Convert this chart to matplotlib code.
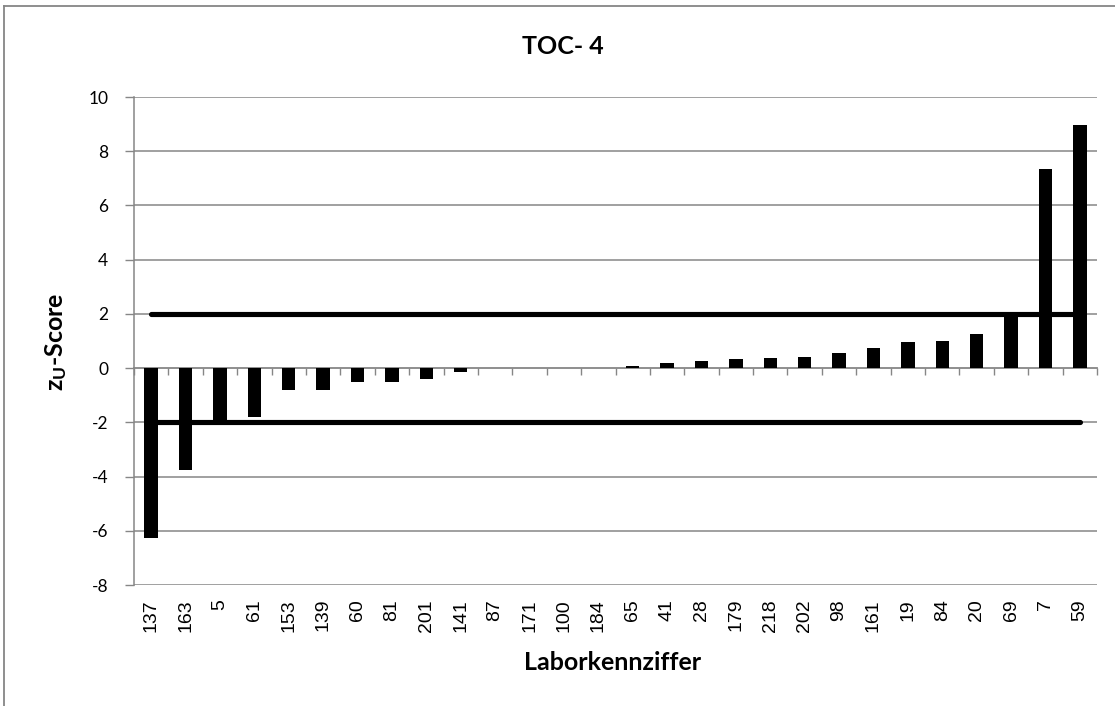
import numpy as np
import matplotlib
matplotlib.use("Agg")
import matplotlib.pyplot as plt

# Laborkennziffer and z_U-scores
labs = ['137', '163', '5', '61', '153', '139', '60', '81', '201', '141',
        '87', '171', '100', '184', '65', '41', '28', '179', '218', '202',
        '98', '161', '19', '84', '20', '69', '7', '59']
zu = [-6.25, -3.74, -1.95, -1.79, -0.81, -0.80, -0.53, -0.53, -0.39, -0.13,
      0.0, 0.0, 0.0, 0.02, 0.06, 0.19, 0.27, 0.33, 0.37, 0.40,
      0.56, 0.75, 0.95, 1.01, 1.26, 1.98, 7.35, 8.97]
limits = [2, -2]
yticks = [-8, -6, -4, -2, 0, 2, 4, 6, 8, 10]

plt.rcParams['mathtext.fontset'] = 'custom'
plt.rcParams['mathtext.rm'] = 'Lato:bold'
plt.rcParams['mathtext.it'] = 'Lato:bold'
plt.rcParams['mathtext.bf'] = 'Lato:bold'

grey = '#868686'
W, H = 1115, 706
fig = plt.figure(figsize=(W / 100, H / 100), dpi=100)
ax = fig.add_axes([134 / W, 1 - 585 / H, (1097 - 134) / W, (585 - 97) / H])

x = np.arange(len(labs))
ax.bar(x, zu, width=0.39, color='black', zorder=3)
for lim in limits:
    ax.plot([x[0], x[-1]], [lim, lim], color='black', lw=3.7,
            solid_capstyle='round', zorder=4)

ax.set_xlim(-0.5, len(labs) - 0.5)
ax.set_ylim(yticks[0], yticks[-1])
ax.set_yticks(yticks)
ax.set_yticklabels([str(t) for t in yticks], fontfamily='Lato', fontsize=12.5)
ax.tick_params(axis='y', length=6.5, width=1, color=grey, pad=12)
for t in yticks:
    if t != 0:
        ax.axhline(t, color=grey, lw=1.1, zorder=1)

for s in ['top', 'right']:
    ax.spines[s].set_visible(False)
ax.spines['left'].set_color(grey)
ax.spines['left'].set_linewidth(1.1)
ax.spines['bottom'].set_position(('data', 0))
ax.spines['bottom'].set_color(grey)
ax.spines['bottom'].set_linewidth(1.3)
ax.spines['bottom'].set_zorder(2)
ax.set_xticks(np.arange(len(labs) + 1) - 0.5)
ax.set_xticklabels([])
ax.tick_params(axis='x', length=5, width=1, color=grey, direction='out')

sec = ax.secondary_xaxis('bottom')
sec.set_xticks(x)
sec.set_xticklabels(labs, rotation=90, fontfamily='Liberation Sans', fontsize=14)
sec.tick_params(length=0, pad=10)
sec.spines['bottom'].set_visible(False)

fig.text(56 / W, 1 - 342 / H, '$z_U$-Score', rotation=90, ha='center', va='center',
         fontfamily='Lato', fontweight='bold', fontsize=18)
fig.text(613 / W, 1 - 662 / H, 'Laborkennziffer', ha='center', va='center',
         fontfamily='Lato', fontweight='bold', fontsize=18)
fig.text(563 / W, 1 - 46 / H, 'TOC- 4', ha='center', va='center',
         fontfamily='Lato', fontweight='bold', fontsize=18)

# chart area border
fig.add_artist(plt.Line2D([4 / W, 1], [1 - 6 / H, 1 - 6 / H], color=grey, lw=1.3,
                          transform=fig.transFigure))
fig.add_artist(plt.Line2D([4 / W, 4 / W], [0, 1 - 6 / H], color=grey, lw=1.3,
                          transform=fig.transFigure))

fig.savefig('out.png', dpi=100)
